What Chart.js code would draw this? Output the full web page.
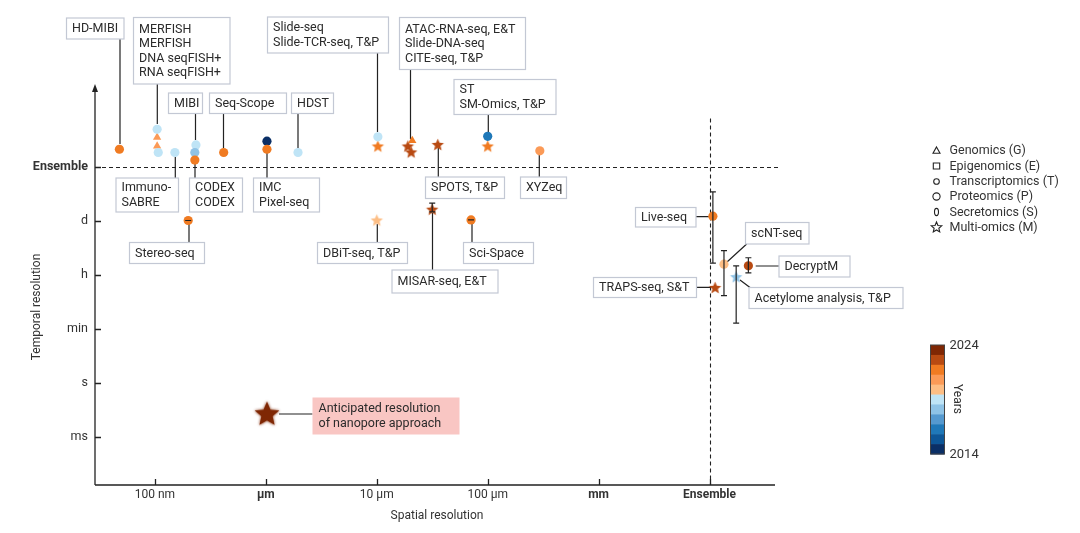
<!DOCTYPE html>
<html>
<head>
<meta charset="utf-8">
<script src="https://cdn.jsdelivr.net/npm/chart.js@4.4.1/dist/chart.umd.min.js"></script>
<style>
  html, body { margin: 0; padding: 0; background: #fff; }
  canvas { display: block; }
</style>
</head>
<body>
<canvas id="chart" width="1080" height="533" style="width:1080px;height:533px"></canvas>
<script>
// Chart defaults
Chart.defaults.font.family = "Roboto, 'Noto Sans', sans-serif";
Chart.defaults.color = '#333';

// Axis ticks (log-like positions: one unit per decade / level)
const xTickValues = [1, 2, 3, 4, 5, 6];
const xTickLabels = ['100 nm', 'μm', '10 μm', '100 μm', 'mm', 'Ensemble'];
const xTickBold = [false, true, false, false, true, true];
const yTickValues = [1, 2, 3, 4, 5, 6];
const yTickLabels = ['ms', 's', 'min', 'h', 'd', 'Ensemble'];
const yTickBold = [false, false, false, false, false, true];

// Year colour scale
const years = [2024, 2023, 2022, 2021, 2020, 2019, 2018, 2017, 2016, 2015, 2014];
const yearPalette = ['#7f2704', '#b84a12', '#f07b22', '#fb9a57', '#fdbe85', '#bfe4f6',
                     '#8fc3e6', '#5599cf', '#1f78b8', '#0d5697', '#0a2f66'];
const yearColor = yr => yearPalette[years.indexOf(yr)];

// Circle markers (transcriptomics / proteomics)
const circleX = [0.68, 1.02, 1.03, 1.18, 1.37, 1.36, 1.36, 1.62, 2.01, 2.01, 2.29, 3.01, 4.00, 4.47, 1.30, 3.85, 6.03, 6.13, 6.35];
const circleY = [6.33, 6.70, 6.27, 6.27, 6.41, 6.27, 6.13, 6.27, 6.48, 6.33, 6.27, 6.56, 6.57, 6.30, 5.01, 5.02, 5.09, 4.20, 4.17];
const circleYear = [2022, 2019, 2019, 2019, 2019, 2018, 2022, 2022, 2014, 2022, 2019, 2019, 2016, 2021, 2022, 2022, 2022, 2020, 2023];

// Triangle markers (genomics)
const triX = [1.02, 1.02, 3.32];
const triY = [6.55, 6.39, 6.49];
const triYear = [2021, 2021, 2022];

// Star markers (multi-omics)
const starX = [3.01, 3.28, 3.31, 3.55, 4.00, 3.50, 3.00, 6.05, 6.24];
const starY = [6.39, 6.39, 6.28, 6.42, 6.39, 5.22, 5.02, 3.77, 3.97];
const starYear = [2022, 2023, 2023, 2023, 2022, 2023, 2020, 2023, 2018];

// Anticipated nanopore resolution
const nanoX = [2.01];
const nanoY = [1.44];
const nanoYear = [2024];

// Temporal error bars
const errX = [6.03, 6.13, 6.35, 6.24, 1.30, 3.85, 3.50];
const errLo = [4.22, 3.62, 4.04, 3.11, 5.01, 5.02, 5.17];
const errHi = [5.54, 4.45, 4.32, 4.17, 5.01, 5.02, 5.33];

// Label boxes [x, y, w, h] and leader lines [x1, y1, x2, y2] in px
const labelBoxes = [
    { lines: ['HD-MIBI'], box: [66.5, 18, 57.5, 21], lead: [120, 39, 120, 144] },
    { lines: ['MERFISH', 'MERFISH', 'DNA seqFISH+', 'RNA seqFISH+'], box: [133.5, 17.5, 96.5, 66.5], lead: [157.3, 84, 157.3, 124] },
    { lines: ['MIBI'], box: [168.5, 93, 34, 20.5], lead: [195.5, 113.5, 195.5, 140] },
    { lines: ['Seq-Scope'], box: [209.5, 93, 77, 20.5], lead: [223.5, 113.5, 223.5, 148] },
    { lines: ['HDST'], box: [291.5, 93, 42, 20.5], lead: [298, 113.5, 298, 148] },
    { lines: ['Slide-seq', 'Slide-TCR-seq, T&P'], box: [267.5, 17, 121, 36], lead: [377.5, 53, 377.5, 132] },
    { lines: ['ATAC-RNA-seq, E&T', 'Slide-DNA-seq', 'CITE-seq, T&P'], box: [399.5, 17.5, 126, 52], lead: [410.5, 69.5, 410.5, 139] },
    { lines: ['ST', 'SM-Omics, T&P'], box: [454, 79.5, 102, 35], lead: [488.3, 114.5, 488.3, 132] },
    { lines: ['Immuno-', 'SABRE'], box: [116, 178, 62.5, 34], lead: [175.3, 157, 175.3, 178] },
    { lines: ['CODEX', 'CODEX'], box: [189.5, 178, 53, 34], lead: [195, 164, 195, 178] },
    { lines: ['IMC', 'Pixel-seq'], box: [253.5, 178, 66, 34], lead: [267, 153, 267, 178] },
    { lines: ['Stereo-seq'], box: [129.5, 242.5, 75, 21], lead: [189, 224, 189, 242.5] },
    { lines: ['SPOTS, T&P'], box: [425.5, 177, 79, 21.5], lead: [438.3, 148, 438.3, 177] },
    { lines: ['XYZeq'], box: [520.5, 177, 46, 21.5], lead: [539.3, 155, 539.3, 177] },
    { lines: ['DBiT-seq, T&P'], box: [317.5, 242.5, 90, 21], lead: [377.3, 224, 377.3, 242.5] },
    { lines: ['Sci-Space'], box: [463.5, 242.5, 70, 21], lead: [472, 224, 472, 242.5] },
    { lines: ['MISAR-seq, E&T'], box: [392, 270, 106, 23], lead: [432.5, 213, 432.5, 270] },
    { lines: ['Live-seq'], box: [635.5, 207.5, 60.5, 19.5], lead: [696, 216.7, 710, 216.7] },
    { lines: ['scNT-seq'], box: [745.5, 222.5, 63.5, 21.5], lead: [746.7, 244, 727, 262] },
    { lines: ['DecryptM'], box: [779, 256, 71, 21], lead: [755.7, 266, 779, 266] },
    { lines: ['TRAPS-seq, S&T'], box: [593.5, 277.5, 103, 20], lead: [696.7, 287.3, 711, 287.3] },
    { lines: ['Acetylome analysis, T&P'], box: [749, 287.5, 154, 21], lead: [740, 280, 750, 287.5] },
    { lines: ['Anticipated resolution', 'of nanopore approach'], box: [312.5, 397.5, 147, 37], lead: [279, 414, 312.5, 414], fill: '#f9c6c3' }
];

const legendItems = ['Genomics (G)', 'Epigenomics (E)', 'Transcriptomics (T)', 'Proteomics (P)', 'Secretomics (S)', 'Multi-omics (M)'];

/**
 * Build a filled five-point star as an image for pointStyle
 */
const starCache = {};
function starImage(color, r, blur = 0) {
    const key = color + r + blur;
    if (starCache[key]) return starCache[key];
    const pad = blur ? blur + 3 : 2;
    const size = Math.ceil(2 * r + 2 * pad);
    const c = document.createElement('canvas');
    c.width = size;
    c.height = size;
    const g = c.getContext('2d');
    g.translate(size / 2, size / 2 + r * 0.1);
    starPath(g, r);
    if (blur) {
        g.shadowColor = color;
        g.shadowBlur = blur;
    }
    g.fillStyle = color;
    g.fill();
    starCache[key] = c;
    return c;
}

function starPath(g, r) {
    g.beginPath();
    for (let i = 0; i < 10; i++) {
        const rr = i % 2 ? r * 0.45 : r;
        const a = -Math.PI / 2 + i * Math.PI / 5;
        g.lineTo(rr * Math.cos(a), rr * Math.sin(a));
    }
    g.closePath();
}

const toPoints = (xs, ys) => xs.map((v, i) => ({ x: v, y: ys[i] }));

// Axes, dashed guides, leader lines (below the markers)
const underlay = {
    id: 'underlay',
    beforeDatasetsDraw(chart) {
        const { ctx, chartArea: a, scales: { x, y } } = chart;
        ctx.save();
        ctx.strokeStyle = '#222';
        ctx.lineWidth = 1.1;

        // ensemble guides
        ctx.setLineDash([4, 3]);
        ctx.beginPath();
        const ey = Math.round(y.getPixelForValue(6)) + 0.5;
        ctx.moveTo(a.left, ey);
        ctx.lineTo(a.right + 5, ey);
        const ex = Math.round(x.getPixelForValue(6)) + 0.5;
        ctx.moveTo(ex, y.getPixelForValue(6.9));
        ctx.lineTo(ex, a.bottom);
        ctx.stroke();
        ctx.setLineDash([]);

        // leader lines
        ctx.lineWidth = 1.2;
        ctx.beginPath();
        labelBoxes.forEach(l => {
            ctx.moveTo(l.lead[0], l.lead[1]);
            ctx.lineTo(l.lead[2], l.lead[3]);
        });
        ctx.stroke();

        // axis lines
        ctx.lineWidth = 1.3;
        ctx.beginPath();
        ctx.moveTo(a.left, a.bottom);
        ctx.lineTo(a.left, a.top + 4);
        ctx.moveTo(a.left, a.bottom);
        ctx.lineTo(a.right, a.bottom);
        // inward ticks
        xTickValues.forEach(v => {
            const px = Math.round(x.getPixelForValue(v)) + 0.5;
            ctx.moveTo(px, a.bottom);
            ctx.lineTo(px, a.bottom - 6);
        });
        yTickValues.forEach(v => {
            const py = Math.round(y.getPixelForValue(v)) + 0.5;
            ctx.moveTo(a.left, py);
            ctx.lineTo(a.left + 6, py);
        });
        ctx.stroke();

        // arrow head
        ctx.fillStyle = '#222';
        ctx.beginPath();
        ctx.moveTo(a.left, a.top - 1);
        ctx.lineTo(a.left - 3, a.top + 7);
        ctx.lineTo(a.left + 3, a.top + 7);
        ctx.closePath();
        ctx.fill();
        ctx.restore();
    }
};

// Error bars, label boxes, legend, colour bar, axis titles
const overlay = {
    id: 'overlay',
    afterDatasetsDraw(chart) {
        const { ctx, scales: { x, y } } = chart;
        ctx.save();

        // error bars
        ctx.strokeStyle = '#222';
        ctx.lineWidth = 1.2;
        ctx.beginPath();
        errX.forEach((v, i) => {
            const px = x.getPixelForValue(v);
            const lo = y.getPixelForValue(errLo[i]);
            const hi = y.getPixelForValue(errHi[i]);
            ctx.moveTo(px, lo);
            ctx.lineTo(px, hi);
            ctx.moveTo(px - 3, lo);
            ctx.lineTo(px + 3, lo);
            ctx.moveTo(px - 3, hi);
            ctx.lineTo(px + 3, hi);
        });
        ctx.stroke();

        // label boxes
        ctx.font = "12.5px Roboto, 'Noto Sans', sans-serif";
        ctx.textBaseline = 'middle';
        ctx.textAlign = 'left';
        labelBoxes.forEach(l => {
            const [bx, by, bw, bh] = l.box;
            ctx.fillStyle = l.fill || '#fff';
            ctx.fillRect(bx, by, bw, bh);
            if (!l.fill) {
                ctx.strokeStyle = '#c3c8d4';
                ctx.lineWidth = 1.2;
                ctx.strokeRect(bx, by, bw, bh);
            }
            ctx.fillStyle = '#2b2b2b';
            const lh = 14.5;
            const startY = by + bh / 2 - (l.lines.length - 1) * lh / 2;
            l.lines.forEach((t, i) => ctx.fillText(t, bx + (l.fill ? 6 : 5.5), startY + i * lh + 0.5));
        });

        // legend
        const lx = 936.5, rows = [150.5, 166, 181.5, 196.5, 212, 227];
        ctx.strokeStyle = '#222';
        ctx.lineWidth = 1.1;
        rows.forEach((ry, i) => {
            ctx.beginPath();
            if (i === 0) {
                ctx.moveTo(lx, ry - 3.5);
                ctx.lineTo(lx + 3.5, ry + 2.8);
                ctx.lineTo(lx - 3.5, ry + 2.8);
                ctx.closePath();
            } else if (i === 1) {
                ctx.rect(lx - 3.2, ry - 3, 6.4, 6);
            } else if (i === 2) {
                ctx.arc(lx, ry, 2.8, 0, Math.PI * 2);
            } else if (i === 3) {
                ctx.arc(lx, ry, 3.6, 0, Math.PI * 2);
            } else if (i === 4) {
                ctx.ellipse(lx, ry, 2, 3.6, 0, 0, Math.PI * 2);
            } else {
                ctx.save();
                ctx.translate(lx, ry + 0.5);
                starPath(ctx, 5.5);
                ctx.restore();
            }
            ctx.stroke();
            ctx.fillStyle = '#333';
            ctx.fillText(legendItems[i], 949.5, ry + 0.5);
        });

        // colour bar
        const cbx = 930.5, cbTop = 345, cbH = 109, cbW = 14;
        const seg = cbH / yearPalette.length;
        yearPalette.forEach((c, i) => {
            ctx.fillStyle = c;
            ctx.fillRect(cbx, cbTop + i * seg, cbW, seg + 0.5);
        });
        ctx.strokeStyle = '#444';
        ctx.lineWidth = 1;
        ctx.strokeRect(cbx, cbTop, cbW, cbH);
        ctx.fillStyle = '#333';
        ctx.font = "13px Roboto, 'Noto Sans', sans-serif";
        ctx.fillText(String(years[0]), 949.5, cbTop + 1);
        ctx.fillText(String(years[years.length - 1]), 949.5, cbTop + cbH + 1);
        ctx.save();
        ctx.translate(957, 399);
        ctx.rotate(Math.PI / 2);
        ctx.textAlign = 'center';
        ctx.font = "12px Roboto, 'Noto Sans', sans-serif";
        ctx.fillText('Years', 0, 0);
        ctx.restore();

        // axis titles
        ctx.font = "12px Roboto, 'Noto Sans', sans-serif";
        ctx.textAlign = 'center';
        ctx.fillText('Spatial resolution', 437, 516);
        ctx.save();
        ctx.translate(37, 307);
        ctx.rotate(-Math.PI / 2);
        ctx.fillText('Temporal resolution', 0, 0);
        ctx.restore();

        ctx.restore();
    }
};

new Chart(document.getElementById('chart'), {
    type: 'scatter',
    data: {
        datasets: [
            {
                label: 'Circles',
                data: toPoints(circleX, circleY),
                pointStyle: 'circle',
                pointRadius: 4.6,
                borderWidth: 0,
                backgroundColor: c => yearColor(circleYear[c.dataIndex])
            },
            {
                label: 'Triangles',
                data: toPoints(triX, triY),
                pointStyle: 'triangle',
                pointRadius: 4.8,
                borderWidth: 0,
                backgroundColor: c => yearColor(triYear[c.dataIndex])
            },
            {
                label: 'Stars',
                data: toPoints(starX, starY),
                pointRadius: 6,
                pointStyle: c => starImage(yearColor(starYear[c.dataIndex]), 6.5)
            },
            {
                label: 'Nanopore',
                data: toPoints(nanoX, nanoY),
                pointRadius: 12,
                pointStyle: c => starImage(yearColor(nanoYear[c.dataIndex]), 13, 3)
            }
        ]
    },
    options: {
        responsive: false,
        animation: false,
        events: [],
        layout: { padding: { left: 0, top: 85, right: 305, bottom: 0 } },
        plugins: {
            legend: { display: false },
            tooltip: { enabled: false }
        },
        scales: {
            x: {
                type: 'linear',
                min: 0.46,
                max: 6.59,
                afterFit: s => { s.height = 48; },
                afterBuildTicks: s => { s.ticks = xTickValues.map(v => ({ value: v })); },
                grid: { display: false, drawTicks: false },
                border: { display: false },
                ticks: {
                    autoSkip: false,
                    maxRotation: 0,
                    padding: 3,
                    color: '#333',
                    callback: (v, i) => xTickLabels[i],
                    font: c => ({ size: 12, weight: xTickBold[c.index] ? 'bold' : 'normal' })
                }
            },
            y: {
                type: 'linear',
                min: 0.11,
                max: 7.52,
                afterFit: s => { s.width = 95; },
                afterBuildTicks: s => { s.ticks = yTickValues.map(v => ({ value: v })); },
                grid: { display: false, drawTicks: false },
                border: { display: false },
                ticks: {
                    autoSkip: false,
                    padding: 7,
                    color: '#333',
                    callback: (v, i) => yTickLabels[i],
                    font: c => ({ size: 12.5, weight: yTickBold[c.index] ? 'bold' : 'normal' })
                }
            }
        }
    },
    plugins: [underlay, overlay]
});
</script>
</body>
</html>
